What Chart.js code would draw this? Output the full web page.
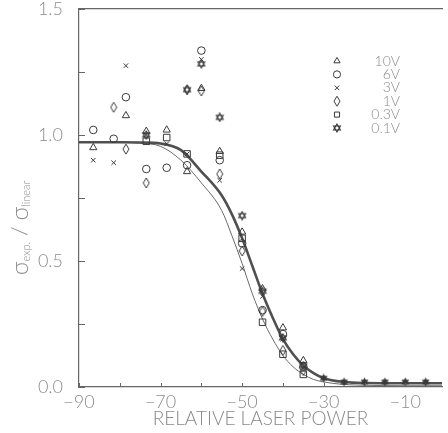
<!DOCTYPE html>
<html>
<head>
<meta charset="utf-8">
<script src="https://cdn.jsdelivr.net/npm/chart.js@4.4.1/dist/chart.umd.min.js"></script>
<style>
  html, body { margin: 0; padding: 0; background: #fff; }
</style>
</head>
<body>
<canvas id="chart" width="448" height="433"></canvas>
<script>
// relative laser power of each measured column
const power = [-86.5, -81.5, -78.5, -73.5, -68.5, -63.5, -60, -55.5, -50, -45, -40, -35];
// sigma_exp / sigma_linear per voltage (null = no point)
const v10  = [0.95, null, 1.077, 1.015, 1.02, 0.855, 1.185, 0.935, 0.615, 0.39, 0.235, 0.105];
const v6   = [1.02, 0.985, 1.15, 0.865, 0.87, 0.88, 1.335, 0.90, 0.57, 0.305, 0.21, 0.08];
const v3   = [0.90, 0.89, 1.275, 1.0, 0.965, 0.925, 1.30, 0.82, 0.47, 0.36, 0.19, 0.075];
const v1   = [null, 1.11, 0.944, 0.81, null, 1.18, 1.175, 0.845, 0.54, 0.30, 0.145, 0.065];
const v03  = [null, null, null, 0.975, 0.99, 0.925, null, 0.92, 0.59, 0.257, 0.13, 0.05];
const v01  = [null, null, null, 1.0, null, 1.18, 1.282, 1.07, 0.68, 0.38, 0.195, 0.085];
// high power end: all voltages on top of each other
const mergedX = [-30, -25, -20, -15, -10, -5];
const mergedY = [0.035, 0.02, 0.02, 0.02, 0.02, 0.02];
// fitted curves
const curveX     = [-90, -80, -75, -70, -65, -60, -55, -52.5, -50, -47.5, -45, -42.5, -40, -37.5, -35, -32.5, -30, -25, -20, -10, 0];
const curveThick = [0.971, 0.971, 0.970, 0.966, 0.94, 0.855, 0.76, 0.685, 0.59, 0.48, 0.37, 0.275, 0.19, 0.13, 0.085, 0.055, 0.035, 0.02, 0.016, 0.015, 0.015];
const curveThin  = [0.971, 0.971, 0.968, 0.955, 0.90, 0.81, 0.70, 0.60, 0.49, 0.37, 0.27, 0.19, 0.125, 0.08, 0.05, 0.03, 0.02, 0.01, 0.007, 0.005, 0.005];

const INK = '#3a3a3a';
const GREY = '#8c8c8c';
const FONT = 'Lato, "DejaVu Sans", sans-serif';

function hexagram(size, filled) {
    const c = document.createElement('canvas');
    c.width = c.height = size;
    const g = c.getContext('2d');
    const r = size / 2 - 1;
    g.strokeStyle = INK; g.fillStyle = INK; g.lineWidth = 1.1;
    [-Math.PI / 2, Math.PI / 2].forEach(rot => {
        g.beginPath();
        for (let k = 0; k < 3; k++) {
            const a = rot + k * 2 * Math.PI / 3;
            const px = size / 2 + r * Math.cos(a), py = size / 2 + r * Math.sin(a);
            if (k) g.lineTo(px, py); else g.moveTo(px, py);
        }
        g.closePath();
        if (filled) g.fill(); else g.stroke();
    });
    return c;
}
function lozenge(w, h) {
    const c = document.createElement('canvas');
    c.width = w + 2; c.height = h + 2;
    const g = c.getContext('2d');
    g.strokeStyle = INK; g.lineWidth = 1;
    g.beginPath();
    g.moveTo(c.width / 2, 1); g.lineTo(w + 1, c.height / 2);
    g.lineTo(c.width / 2, h + 1); g.lineTo(1, c.height / 2);
    g.closePath(); g.stroke();
    return c;
}

const seriesDefs = [
    { label: '10V',  values: v10, style: 'triangle', radius: 4.2 },
    { label: '6V',   values: v6,  style: 'circle',   radius: 3.8 },
    { label: '3V',   values: v3,  style: 'crossRot', radius: 3.2 },
    { label: '1V',   values: v1,  style: lozenge(6, 10), radius: 4 },
    { label: '0.3V', values: v03, style: 'rect',     radius: 4.6 },
    { label: '0.1V', values: v01, style: hexagram(10, false), radius: 4 }
];

const datasets = seriesDefs.map(s => ({
    label: s.label,
    data: power.map((p, i) => ({ x: p, y: s.values[i] })).filter(pt => pt.y !== null),
    pointStyle: s.style,
    pointRadius: s.radius,
    pointBorderColor: INK,
    pointBackgroundColor: 'rgba(0,0,0,0)',
    pointBorderWidth: 1,
    showLine: false
}));
datasets.push({
    label: 'all',
    data: mergedX.map((x, i) => ({ x: x, y: mergedY[i] })),
    pointStyle: hexagram(11, true),
    pointRadius: 5,
    showLine: false
});
datasets.push({
    label: 'fit thick',
    data: curveX.map((x, i) => ({ x: x, y: curveThick[i] })),
    showLine: true, pointRadius: 0, borderColor: '#505050', borderWidth: 2.6,
    cubicInterpolationMode: 'monotone'
});
datasets.push({
    label: 'fit thin',
    data: curveX.map((x, i) => ({ x: x, y: curveThin[i] })),
    showLine: true, pointRadius: 0, borderColor: '#6a6a6a', borderWidth: 1,
    cubicInterpolationMode: 'monotone'
});

// inward tick marks
const innerTicks = {
    id: 'innerTicks',
    afterDraw(chart) {
        const { ctx, chartArea: a } = chart;
        const xs = chart.scales.x, ys = chart.scales.y;
        ctx.save();
        ctx.strokeStyle = '#666'; ctx.lineWidth = 1;
        xs.ticks.forEach(t => {
            const px = Math.round(xs.getPixelForValue(t.value)) + 0.5;
            ctx.beginPath(); ctx.moveTo(px, a.bottom); ctx.lineTo(px, a.bottom - 4); ctx.stroke();
        });
        ys.ticks.forEach(t => {
            const py = Math.round(ys.getPixelForValue(t.value)) + 0.5;
            ctx.beginPath(); ctx.moveTo(a.left, py); ctx.lineTo(a.left + 6, py); ctx.stroke();
        });
        ctx.restore();
    }
};

// y title with subscripts
const yTitle = {
    id: 'yTitle',
    afterDraw(chart) {
        const ctx = chart.ctx;
        const parts = [
            { t: 'σ', size: 24, dy: 0 },
            { t: 'exp.', size: 11, dy: 6 },
            { t: ' / ', size: 22, dy: 0 },
            { t: 'σ', size: 24, dy: 0 },
            { t: 'linear', size: 11, dy: 6 }
        ];
        ctx.save();
        ctx.fillStyle = GREY;
        ctx.textBaseline = 'middle';
        let total = 0;
        parts.forEach(p => { ctx.font = `300 ${p.size}px ${FONT}`; p.w = ctx.measureText(p.t).width; total += p.w; });
        ctx.translate(20, 228);
        ctx.rotate(-Math.PI / 2);
        let x = -total / 2;
        parts.forEach(p => {
            ctx.font = `300 ${p.size}px ${FONT}`;
            ctx.fillText(p.t, x, p.dy);
            x += p.w;
        });
        ctx.restore();
    }
};

// legend inside the plot
const insideLegend = {
    id: 'insideLegend',
    afterDraw(chart) {
        const ctx = chart.ctx;
        ctx.save();
        ctx.font = `300 14px ${FONT}`;
        ctx.textAlign = 'right';
        ctx.textBaseline = 'middle';
        seriesDefs.forEach((s, i) => {
            const y = 61 + i * 13.4;
            ctx.strokeStyle = INK;
            ctx.fillStyle = 'rgba(0,0,0,0)';
            ctx.lineWidth = 1;
            Chart.helpers.drawPoint(ctx, {
                pointStyle: s.style, radius: Math.min(s.radius, 3.6), rotation: 0, borderWidth: 1
            }, 337, y);
            ctx.fillStyle = GREY;
            ctx.fillText(s.label, 400, y);
        });
        ctx.restore();
    }
};

// fixed box sizes, no overhang padding from tick labels
function fixBox(w, h) {
    return s => {
        if (w !== null) s.width = w;
        if (h !== null) s.height = h;
        s.paddingLeft = s.paddingRight = s.paddingTop = s.paddingBottom = 0;
    };
}

const tickFont = { family: FONT, size: 18, weight: '300' };

new Chart(document.getElementById('chart'), {
    type: 'scatter',
    data: { datasets: datasets },
    options: {
        responsive: false,
        animation: false,
        devicePixelRatio: 1,
        layout: { padding: 0 },
        plugins: { legend: { display: false }, tooltip: { enabled: false } },
        scales: {
            x: {
                type: 'linear', position: 'bottom', min: -90, max: -1,
                grid: { display: false, drawTicks: false },
                border: { display: true, color: '#666', width: 1.2 },
                ticks: {
                    stepSize: 10, includeBounds: false, padding: 4, color: GREY, font: tickFont,
                    maxRotation: 0, autoSkip: false,
                    callback: v => ((v + 90) % 20 === 0 ? '\u2212' + Math.abs(v) : '')
                },
                title: {
                    display: true, text: 'RELATIVE LASER POWER', color: '#888',
                    font: { family: FONT, size: 19, weight: '300' }, padding: { top: 0, bottom: 3 }
                },
                afterFit: fixBox(null, 46)
            },
            x2: {
                type: 'linear', position: 'top', min: -90, max: -1,
                grid: { display: false, drawTicks: false },
                border: { display: true, color: '#666', width: 1.2 },
                ticks: { display: false },
                afterFit: fixBox(null, 9)
            },
            y: {
                min: 0, max: 1.5,
                grid: { display: false, drawTicks: false },
                border: { display: true, color: '#666', width: 1.2 },
                ticks: {
                    stepSize: 0.25, padding: 16, color: GREY, font: tickFont,
                    callback: v => (Math.round(v * 4) % 2 === 0 ? v.toFixed(1) : '')
                },
                afterFit: fixBox(79, null)
            }
        }
    },
    plugins: [innerTicks, yTitle, insideLegend]
});
</script>
</body>
</html>
